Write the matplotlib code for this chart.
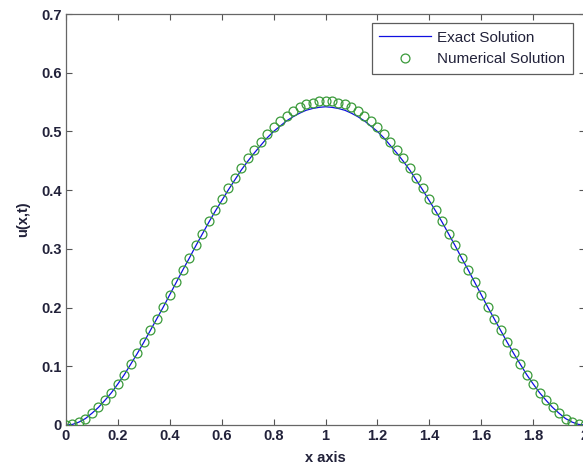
import numpy as np
import matplotlib
matplotlib.use("Agg")
import matplotlib.pyplot as plt

# ---- data ----
x_values = np.linspace(0.0, 2.0, 81)

exact_solution = [
    0.000, 0.001, 0.005, 0.011, 0.020, 0.030, 0.042, 0.055, 0.070, 0.086,
    0.104, 0.122, 0.141, 0.161, 0.181, 0.201, 0.222, 0.243, 0.264, 0.284,
    0.305, 0.325, 0.345, 0.364, 0.382, 0.400, 0.417, 0.434, 0.449, 0.463,
    0.476, 0.489, 0.500, 0.509, 0.518, 0.525, 0.531, 0.536, 0.539, 0.541,
    0.542,
    0.541, 0.539, 0.536, 0.531, 0.525, 0.518, 0.509, 0.500, 0.489, 0.476,
    0.463, 0.449, 0.434, 0.417, 0.400, 0.382, 0.364, 0.345, 0.325, 0.305,
    0.284, 0.264, 0.243, 0.222, 0.201, 0.181, 0.161, 0.141, 0.122, 0.104,
    0.086, 0.070, 0.055, 0.042, 0.030, 0.020, 0.011, 0.005, 0.001, 0.000,
]

numerical_solution = [
    0.000, 0.002, 0.005, 0.011, 0.020, 0.030, 0.042, 0.055, 0.070, 0.086,
    0.104, 0.122, 0.141, 0.161, 0.181, 0.201, 0.222, 0.243, 0.264, 0.285,
    0.306, 0.326, 0.347, 0.366, 0.385, 0.403, 0.421, 0.438, 0.454, 0.469,
    0.482, 0.495, 0.507, 0.517, 0.526, 0.534, 0.541, 0.546, 0.549, 0.551,
    0.552,
    0.551, 0.549, 0.546, 0.541, 0.534, 0.526, 0.517, 0.507, 0.495, 0.482,
    0.469, 0.454, 0.438, 0.421, 0.403, 0.385, 0.366, 0.347, 0.326, 0.306,
    0.285, 0.264, 0.243, 0.222, 0.201, 0.181, 0.161, 0.141, 0.122, 0.104,
    0.086, 0.070, 0.055, 0.042, 0.030, 0.020, 0.011, 0.005, 0.002, 0.000,
]

x_ticks = [0, 0.2, 0.4, 0.6, 0.8, 1, 1.2, 1.4, 1.6, 1.8, 2]
x_tick_labels = ["0", "0.2", "0.4", "0.6", "0.8", "1", "1.2", "1.4", "1.6", "1.8", "2"]
y_ticks = [0, 0.1, 0.2, 0.3, 0.4, 0.5, 0.6, 0.7]
y_tick_labels = ["0", "0.1", "0.2", "0.3", "0.4", "0.5", "0.6", "0.7"]

# ---- figure ----
plt.rcParams['font.family'] = ['Liberation Sans', 'DejaVu Sans']
fig = plt.figure(figsize=(5.83, 4.68), dpi=100)
ax_w = 519 / 583
ax_h = 411 / 468
ax = fig.add_axes([66 / 583, 43 / 468, ax_w, ax_h])

ax.plot(x_values, exact_solution, color='#1010e0', lw=0.9, label='Exact Solution', zorder=2)
ax.plot(x_values, numerical_solution, ls='none', marker='o', markersize=6.4,
        markerfacecolor='none', markeredgecolor='#3a9a3a', markeredgewidth=0.9,
        label='Numerical Solution', zorder=3)

ax.set_xlim(0, 2)
ax.set_ylim(0, 0.7)
ax.set_xticks(x_ticks)
ax.set_xticklabels(x_tick_labels)
ax.set_yticks(y_ticks)
ax.set_yticklabels(y_tick_labels)

ax.tick_params(direction='in', length=4, width=0.8, top=True, right=True,
               colors='#555555', labelcolor='#22223a', labelsize=10.5, pad=3)
for lab in ax.get_xticklabels() + ax.get_yticklabels():
    lab.set_fontweight('bold')
for s in ax.spines.values():
    s.set_color('#666666')
    s.set_linewidth(0.9)

ax.set_xlabel('x axis', fontsize=10.5, fontweight='bold', color='#22223a', labelpad=6)
ax.set_ylabel('u(x,t)', fontsize=10.5, fontweight='bold', color='#22223a', labelpad=8)

# legend box: right edge ~573 px, top ~23 px
anchor_x = (573 - 66) / 519
anchor_y = 1 - (23 - 14) / 411
leg = ax.legend(loc='upper right', bbox_to_anchor=(anchor_x, anchor_y),
                bbox_transform=ax.transAxes, fontsize=11, frameon=True, fancybox=False,
                edgecolor='#333333', handlelength=3.4, handletextpad=0.4,
                borderpad=0.5, labelspacing=0.5, borderaxespad=0)
leg.get_frame().set_linewidth(0.9)
for t in leg.get_texts():
    t.set_color('#22223a')

fig.savefig('out.png', dpi=100)
